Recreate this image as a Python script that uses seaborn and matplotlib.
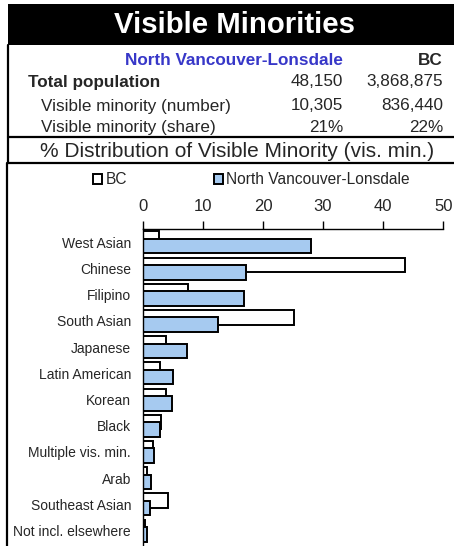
import pandas as pd
import matplotlib.pyplot as plt
import seaborn as sns
from matplotlib.lines import Line2D
from matplotlib.patches import Rectangle

# ==========================
# DATA
# ==========================

groups = [
    "West Asian", "Chinese", "Filipino", "South Asian", "Japanese",
    "Latin American", "Korean", "Black", "Multiple vis. min.", "Arab",
    "Southeast Asian", "Not incl. elsewhere",
]
bc_share = [2.7, 43.7, 7.6, 25.1, 3.9, 2.8, 3.8, 3.0, 1.7, 0.7, 4.2, 0.4]
nvl_share = [28.0, 17.1, 16.8, 12.5, 7.3, 5.0, 4.8, 2.8, 1.9, 1.4, 1.2, 0.7]

regions = ["BC", "North Vancouver-Lonsdale"]
header_rows = ["Total population", "Visible minority (number)", "Visible minority (share)"]
nvl_values = ["48,150", "10,305", "21%"]
bc_values = ["3,868,875", "836,440", "22%"]
x_ticks = [0, 10, 20, 30, 40, 50]

df = pd.DataFrame({
    "group": groups * 2,
    "share": bc_share + nvl_share,
    "region": [regions[0]] * len(groups) + [regions[1]] * len(groups),
})

# ==========================
# FIGURE
# ==========================

W, H = 454, 546
sns.set_style("white")
plt.rcParams["font.family"] = ["Liberation Sans", "DejaVu Sans"]

fig = plt.figure(figsize=(W / 100, H / 100), dpi=100)


def fx(x):
    return x / W


def fy(y):
    return 1 - y / H


# title band
fig.patches.append(Rectangle((fx(8), fy(45)), fx(454) - fx(8), fy(4) - fy(45),
                             transform=fig.transFigure, facecolor="black",
                             edgecolor="none"))
fig.text(fx(234), fy(25), "Visible Minorities", color="white", fontsize=21.2,
         fontweight="bold", ha="center", va="center")

# frame lines
for (x0, y0, x1, y1) in [(7.5, 45, 7.5, 163), (7.5, 137, 454, 137),
                         (7.5, 162.5, 454, 162.5), (7, 162.5, 7, 546)]:
    fig.lines.append(Line2D([fx(x0), fx(x1)], [fy(y0), fy(y1)],
                            transform=fig.transFigure, color="black", lw=1.6))

# header table
fig.text(fx(343), fy(60), "North Vancouver-Lonsdale", color="#3737C8",
         fontsize=12.3, fontweight="bold", ha="right", va="center")
fig.text(fx(443), fy(60), "BC", fontsize=12.3, fontweight="bold",
         ha="right", va="center")

row_y = [82, 106, 127]
for i, label in enumerate(header_rows):
    bold = "bold" if i == 0 else "normal"
    x_lab = 28 if i == 0 else 41
    fig.text(fx(x_lab), fy(row_y[i]), label, fontsize=12.3, fontweight=bold,
             ha="left", va="center")
    fig.text(fx(343), fy(row_y[i]), nvl_values[i], fontsize=12.3,
             ha="right", va="center")
    fig.text(fx(443), fy(row_y[i]), bc_values[i], fontsize=12.3,
             ha="right", va="center")

fig.text(fx(237.5), fy(151.5), "% Distribution of Visible Minority (vis. min.)",
         fontsize=15, ha="center", va="center")

# ==========================
# BAR CHART
# ==========================

ax_top, ax_bottom = 229.3, 546
ax = fig.add_axes([fx(142.7), fy(ax_bottom), fx(443.3) - fx(142.7),
                   fy(ax_top) - fy(ax_bottom)])

sns.barplot(
    data=df, x="share", y="group", hue="region", hue_order=regions,
    order=groups, orient="h", dodge=True, width=0.56, saturation=1,
    palette={"BC": "white", "North Vancouver-Lonsdale": "#A6CAF0"},
    edgecolor="black", linewidth=1.4, ax=ax,
)

# overlap the two bars of each group (Excel style)
bar_h = 0.56
for p in ax.patches:
    c = p.get_y() + p.get_height() / 2
    p.set_y(c - bar_h / 2)
    p.set_height(bar_h)

ax.set_xlim(0, 50)
ax.set_ylim((ax_bottom - ax_top) / 26.2 - 0.5, -0.5)
ax.set_xticks(x_ticks)
ax.set_xlabel("")
ax.set_ylabel("")
ax.xaxis.tick_top()
ax.tick_params(axis="x", direction="out", length=6, width=1, pad=5,
               labelsize=12, color="black", top=True, bottom=False)
ax.tick_params(axis="y", length=0, pad=8.4, labelsize=10)

for side in ["right", "bottom"]:
    ax.spines[side].set_visible(False)
for side in ["top", "left"]:
    ax.spines[side].set_color("black")
    ax.spines[side].set_linewidth(1)

sns.move_legend(
    ax, "center", bbox_to_anchor=(fx(251.5), fy(180)),
    bbox_transform=fig.transFigure, ncol=2, frameon=False, title=None,
    fontsize=11.2, handlelength=0.6, handleheight=0.6,
    handletextpad=0.2, columnspacing=5.6,
)

plt.savefig("out.png", dpi=100)
plt.close()
